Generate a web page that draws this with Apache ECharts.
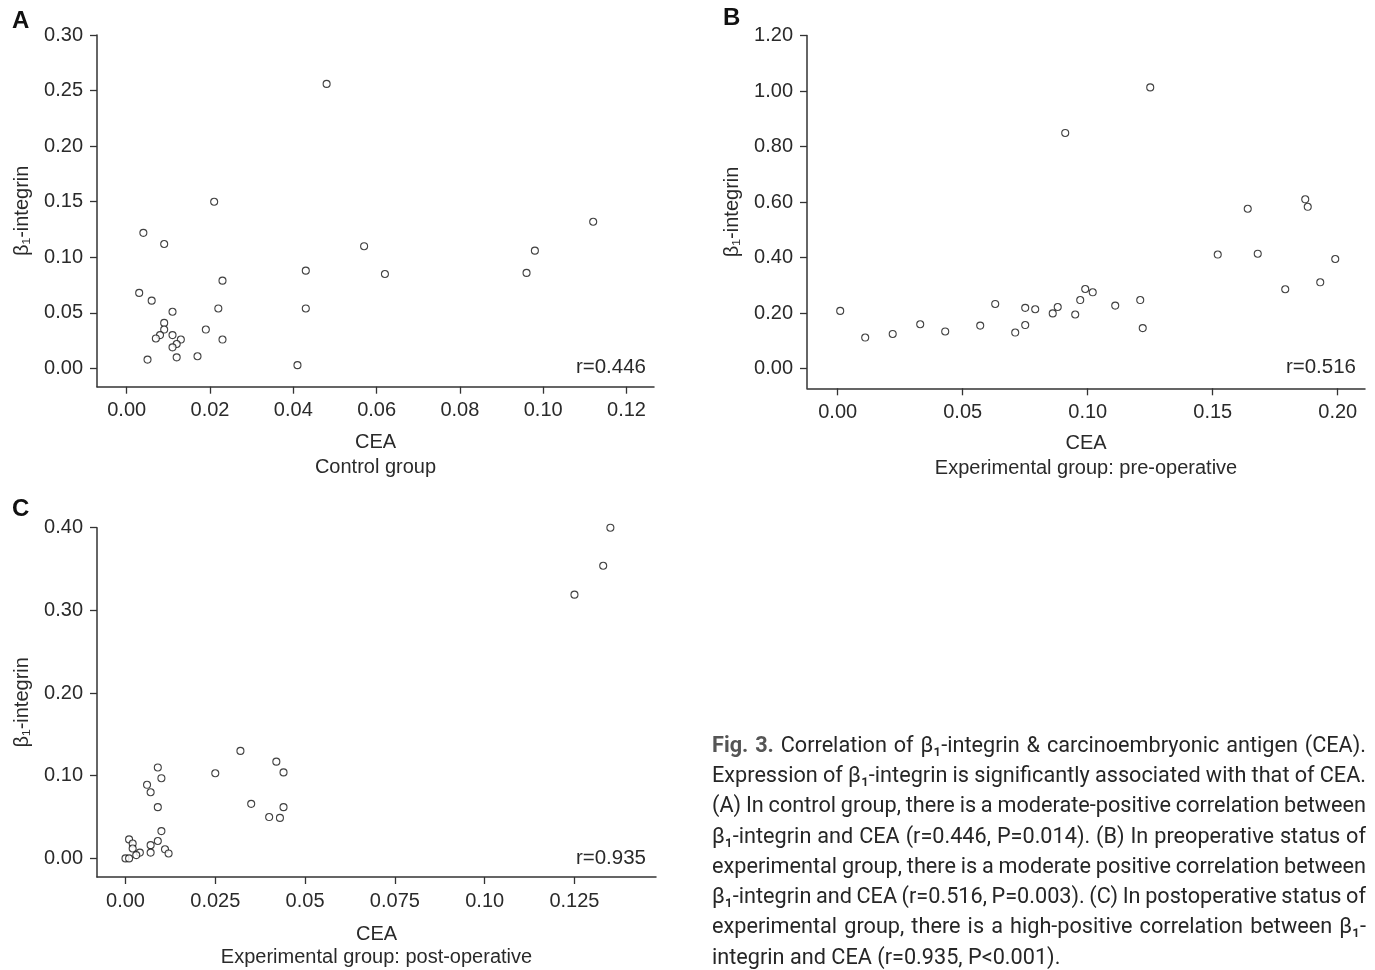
<!DOCTYPE html>
<html><head><meta charset="utf-8">
<script src="https://cdn.jsdelivr.net/npm/echarts@6/dist/echarts.min.js"></script>
<style>html,body{margin:0;padding:0;background:#fff}#c{width:1375px;height:970px}</style>
</head><body><div id="c"></div><script>
// ---------- data ----------
// Panel A: Control group
const ceaA = [0.048,0.021,0.112,0.004,0.009,0.057,0.098,0.043,0.062,0.096,0.023,0.003,0.006,0.011,0.022,0.043,0.009,0.009,0.019,0.008,0.007,0.011,0.013,0.012,0.011,0.023,0.005,0.012,0.017,0.041];
const itgA = [0.256,0.150,0.132,0.122,0.112,0.110,0.106,0.088,0.085,0.086,0.079,0.068,0.061,0.051,0.054,0.054,0.041,0.035,0.035,0.030,0.027,0.030,0.026,0.022,0.019,0.026,0.008,0.010,0.011,0.003];
// Panel B: Experimental group pre-operative
const ceaB = [0.125,0.091,0.187,0.188,0.164,0.152,0.168,0.199,0.193,0.179,0.099,0.102,0.097,0.121,0.111,0.063,0.075,0.079,0.088,0.086,0.095,0.001,0.033,0.043,0.057,0.075,0.071,0.022,0.011,0.122];
const itgB = [1.013,0.849,0.610,0.583,0.576,0.411,0.414,0.395,0.311,0.286,0.287,0.275,0.247,0.247,0.227,0.233,0.219,0.214,0.222,0.199,0.195,0.208,0.160,0.134,0.155,0.157,0.130,0.125,0.112,0.146];
// Panel C: Experimental group post-operative
const ceaC = [0.135,0.133,0.125,0.032,0.042,0.025,0.044,0.009,0.010,0.006,0.007,0.009,0.035,0.044,0.040,0.043,0.010,0.001,0.002,0.009,0.007,0.002,0.004,0.003,0.007,0.011,0.012,0.000,0.001];
const itgC = [0.400,0.354,0.319,0.130,0.117,0.103,0.104,0.110,0.097,0.089,0.080,0.062,0.066,0.062,0.050,0.049,0.033,0.023,0.018,0.021,0.016,0.012,0.007,0.004,0.007,0.011,0.006,0.000,0.000];

// ticks and tick labels
const xTicksA = [0,0.02,0.04,0.06,0.08,0.10,0.12];
const xLabelsA = ['0.00','0.02','0.04','0.06','0.08','0.10','0.12'];
const yTicksA = [0,0.05,0.10,0.15,0.20,0.25,0.30];
const yLabelsA = ['0.00','0.05','0.10','0.15','0.20','0.25','0.30'];
const xTicksB = [0,0.05,0.10,0.15,0.20];
const xLabelsB = ['0.00','0.05','0.10','0.15','0.20'];
const yTicksB = [0,0.2,0.4,0.6,0.8,1.0,1.2];
const yLabelsB = ['0.00','0.20','0.40','0.60','0.80','1.00','1.20'];
const xTicksC = [0,0.025,0.05,0.075,0.10,0.125];
const xLabelsC = ['0.00','0.025','0.05','0.075','0.10','0.125'];
const yTicksC = [0,0.1,0.2,0.3,0.4];
const yLabelsC = ['0.00','0.10','0.20','0.30','0.40'];

const rA = 'r=0.446', rB = 'r=0.516', rC = 'r=0.935';
const xNameA = 'CEA\nControl group';
const xNameB = 'CEA\nExperimental group: pre-operative';
const xNameC = 'CEA\nExperimental group: post-operative';
const yName = 'β₁-integrin';

const captionLines = [
  'Fig. 3. Correlation of β₁-integrin & carcinoembryonic antigen (CEA).',
  'Expression of β₁-integrin is significantly associated with that of CEA.',
  '(A) In control group, there is a moderate-positive correlation between',
  'β₁-integrin and CEA (r=0.446, P=0.014). (B) In preoperative status of',
  'experimental group, there is a moderate positive correlation between',
  'β₁-integrin and CEA (r=0.516, P=0.003). (C) In postoperative status of',
  'experimental group, there is a high-positive correlation between β₁-',
  'integrin and CEA (r=0.935, P<0.001).'
];

// ---------- chart ----------
const FONT = "'Liberation Sans', Arial, sans-serif";
const AX = '#2a2a2a';
function lab(v, ticks, labels){
  for (let i=0;i<ticks.length;i++) if (Math.abs(v-ticks[i])<1e-9) return labels[i];
  return '';
}
function xAxisCfg(g, min, max, ticks, labels, name, gap, lh){
  return {type:'value', gridIndex:g, min:min, max:max,
    splitLine:{show:false},
    axisLine:{show:true, onZero:false, lineStyle:{color:'#333', width:1.5}},
    axisTick:{show:true, length:7, customValues:ticks, lineStyle:{color:'#333', width:1.3}},
    axisLabel:{customValues:ticks, margin:14, color:AX, fontSize:20, fontFamily:FONT,
      formatter:function(v){return lab(v,ticks,labels);}},
    name:name, nameLocation:'middle', nameGap:gap,
    nameTextStyle:{color:AX, fontSize:20, fontFamily:FONT, lineHeight:lh}};
}
function yAxisCfg(g, min, max, ticks, labels){
  return {type:'value', gridIndex:g, min:min, max:max,
    splitLine:{show:false},
    axisLine:{show:true, onZero:false, lineStyle:{color:'#333', width:1.5}},
    axisTick:{show:true, length:7, customValues:ticks, lineStyle:{color:'#333', width:1.3}},
    axisLabel:{customValues:ticks, margin:14, color:AX, fontSize:20, fontFamily:FONT,
      formatter:function(v){return lab(v,ticks,labels);}},
    name:yName, nameLocation:'middle', nameGap:65, nameRotate:90,
    nameTextStyle:{color:AX, fontSize:20, fontFamily:FONT}};
}
function pts(xs, ys){ return xs.map(function(x,i){return [x, ys[i]];}); }
function sc(i, data){
  return {type:'scatter', xAxisIndex:i, yAxisIndex:i, data:data, symbol:'circle', symbolSize:7,
    itemStyle:{color:'#fff', borderColor:'#111', borderWidth:1.1}, silent:true};
}

// ---------- caption (justified, condensed) ----------
const CAP_X = 712, CAP_W = 654, CAP_Y0 = 746, CAP_LH = 30.3, CAP_SIZE = 22.5;
const CAP_FAM = "'Roboto', sans-serif";
const mctx = document.createElement('canvas').getContext('2d');
function fstr(sz, bold){ return (bold?'bold ':'')+sz+'px '+CAP_FAM; }
function lineWords(li){ return captionLines[li].split(' '); }
function isBold(li, wi){ return li===0 && wi<2; }
function mw(t, b){ mctx.font=fstr(CAP_SIZE,b); return mctx.measureText(t).width; }
let capScale = 1;
(function fit(){
  let maxW = 0;
  const sp = mw(' ', false);
  for (let li=0; li<captionLines.length-1; li++){
    const ws = lineWords(li); let w=0;
    ws.forEach(function(t,wi){ w+=mw(t,isBold(li,wi)); });
    w += (ws.length-1)*sp*0.85;
    if (w>maxW) maxW=w;
  }
  capScale = Math.min(1, CAP_W/maxW);
})();
const capEls = [];
for (let li=0; li<captionLines.length; li++){
  const ws = lineWords(li);
  const widths = ws.map(function(t,wi){ return mw(t,isBold(li,wi))*capScale; });
  const sum = widths.reduce(function(a,b){return a+b;},0);
  const sp = mw(' ', false)*capScale;
  const last = li===captionLines.length-1;
  const gap = last ? sp : (CAP_W-sum)/(ws.length-1);
  let x = CAP_X;
  ws.forEach(function(t,wi){
    const b = isBold(li,wi);
    capEls.push({type:'text', x:x, y:CAP_Y0+li*CAP_LH, scaleX:capScale, silent:true,
      style:{text:t, fontSize:CAP_SIZE, fontFamily:CAP_FAM, fontWeight:b?'bold':'normal',
        fill:b?'#555':'#262626', verticalAlign:'middle', align:'left'}});
    x += widths[wi]+gap;
  });
}

function txt(x,y,t,opt){
  return {type:'text', x:x, y:y, silent:true, style:Object.assign({text:t, fontSize:20, fontFamily:FONT, fill:'#222', verticalAlign:'middle', align:'left'}, opt||{})};
}

const chart = echarts.init(document.getElementById('c'), null, {renderer:'canvas'});
chart.setOption({
  animation:false,
  backgroundColor:'#fff',
  grid:[
    {left:97, top:35, width:557, height:351.7},
    {left:807, top:35.5, width:558, height:352.8},
    {left:97, top:527.7, width:559, height:351}
  ],
  xAxis:[
    xAxisCfg(0, -0.00713, 0.1266, xTicksA, xLabelsA, xNameA, 43, 25),
    xAxisCfg(1, -0.01228, 0.2109, xTicksB, xLabelsB, xNameB, 43, 25),
    xAxisCfg(2, -0.00793, 0.1477, xTicksC, xLabelsC, xNameC, 46, 23)
  ],
  yAxis:[
    yAxisCfg(0, -0.0164, 0.30, yTicksA, yLabelsA),
    yAxisCfg(1, -0.0708, 1.2, yTicksB, yLabelsB),
    yAxisCfg(2, -0.0225, 0.40, yTicksC, yLabelsC)
  ],
  series:[ sc(0, pts(ceaA,itgA)), sc(1, pts(ceaB,itgB)), sc(2, pts(ceaC,itgC)) ],
  graphic:[
    txt(12, 21, 'A', {fontSize:24, fontWeight:'bold', fill:'#111'}),
    txt(723, 18, 'B', {fontSize:24, fontWeight:'bold', fill:'#111'}),
    txt(12, 509, 'C', {fontSize:24, fontWeight:'bold', fill:'#111'}),
    txt(646, 367, rA, {align:'right', fontSize:20.5, fill:'#2a2a2a'}),
    txt(1356, 367, rB, {align:'right', fontSize:20.5, fill:'#2a2a2a'}),
    txt(646, 858, rC, {align:'right', fontSize:20.5, fill:'#2a2a2a'})
  ].concat(capEls)
});
</script></body></html>
